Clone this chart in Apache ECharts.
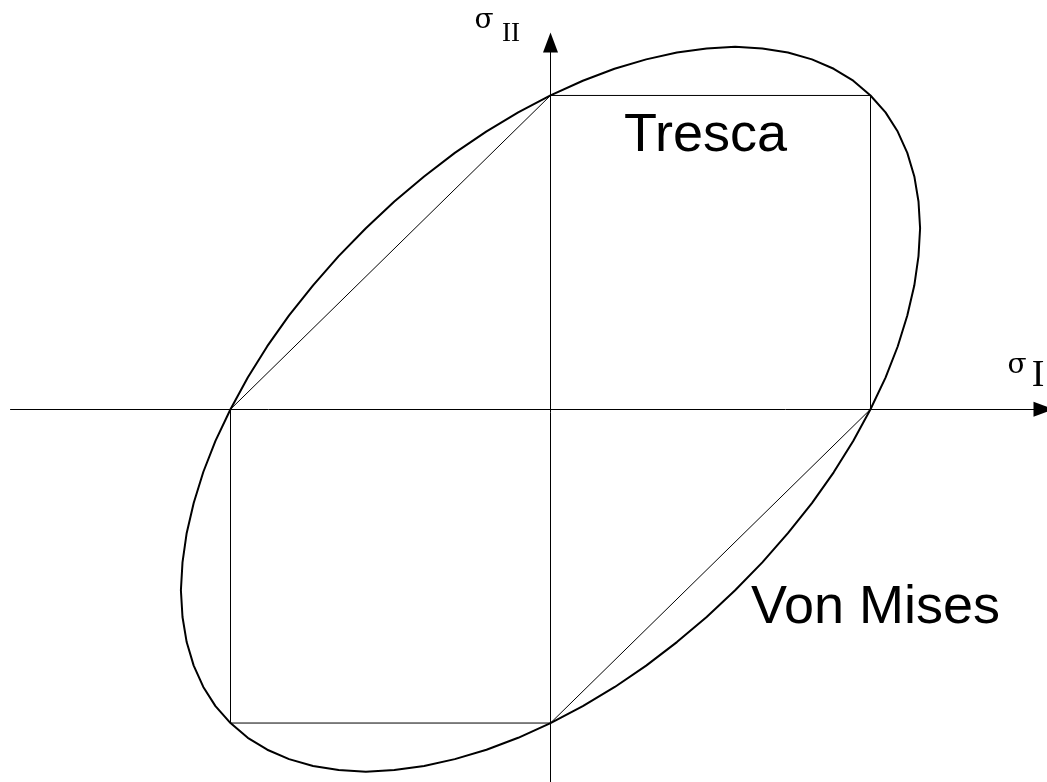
<!DOCTYPE html>
<html>
<head>
<meta charset="utf-8">
<title>Tresca / Von Mises</title>
<script src="https://cdn.jsdelivr.net/npm/echarts@6/dist/echarts.min.js"></script>
<style>
  html, body { margin: 0; padding: 0; background: #fff; }
  #chart { width: 1047px; height: 782px; }
</style>
</head>
<body>
<div id="chart"></div>
<script>
// Tresca hexagon corners (σI, σII), in units of the yield stress
const trescaX = [0, 1, 1, 0, -1, -1, 0];
const trescaY = [1, 1, 0, -1, -1, 0, 1];

// Points along the von Mises ellipse (σI, σII), going round clockwise from (1, 1)
const misesX = [
  1.000, 1.047, 1.085, 1.115, 1.137, 1.150, 1.155, 1.150, 1.137, 1.115, 1.085, 1.047,
  1.000, 0.946, 0.885, 0.817, 0.742, 0.662, 0.577, 0.488, 0.395, 0.299, 0.201, 0.101,
  0.000, -0.101, -0.200, -0.299, -0.395, -0.488, -0.577, -0.662, -0.742, -0.817, -0.885, -0.946,
  -1.000, -1.047, -1.085, -1.115, -1.137, -1.150, -1.155, -1.150, -1.137, -1.115, -1.085, -1.047,
  -1.000, -0.946, -0.885, -0.817, -0.742, -0.662, -0.577, -0.488, -0.395, -0.299, -0.201, -0.101,
  0.000, 0.101, 0.200, 0.299, 0.395, 0.488, 0.577, 0.662, 0.742, 0.817, 0.885, 0.946,
  1.000
];
const misesY = [
  1.000, 0.946, 0.885, 0.817, 0.742, 0.662, 0.577, 0.488, 0.395, 0.299, 0.200, 0.101,
  0.000, -0.101, -0.201, -0.299, -0.395, -0.488, -0.577, -0.662, -0.742, -0.817, -0.885, -0.946,
  -1.000, -1.047, -1.085, -1.115, -1.137, -1.150, -1.155, -1.150, -1.137, -1.115, -1.085, -1.047,
  -1.000, -0.946, -0.885, -0.817, -0.742, -0.662, -0.577, -0.488, -0.395, -0.299, -0.200, -0.101,
  0.000, 0.101, 0.201, 0.299, 0.395, 0.488, 0.577, 0.662, 0.742, 0.817, 0.885, 0.946,
  1.000, 1.047, 1.085, 1.115, 1.137, 1.150, 1.155, 1.150, 1.137, 1.115, 1.085, 1.047,
  1.000
];

const pairs = (xs, ys) => xs.map((x, i) => [x, ys[i]]);

const chart = echarts.init(document.getElementById('chart'), null, { renderer: 'canvas' });

const axisCommon = {
  type: 'value',
  axisLine: {
    onZero: true,
    symbol: ['none', 'triangle'],
    symbolSize: [15, 20],
    lineStyle: { color: '#000', width: 1 }
  },
  axisTick: { show: false },
  axisLabel: { show: false },
  splitLine: { show: false }
};

chart.setOption({
  animation: false,
  backgroundColor: '#fff',
  grid: { left: 10.5, right: 3.5, top: 42.5, bottom: -0.5, containLabel: false },
  xAxis: Object.assign({}, axisCommon, { min: -1.6875, max: 1.540625 }),
  yAxis: Object.assign({}, axisCommon, { min: -1.1879, max: 1.16879 }),
  series: [
    {
      name: 'Tresca',
      type: 'line',
      data: pairs(trescaX, trescaY),
      symbol: 'none',
      lineStyle: { color: '#000', width: 1 },
      z: 3
    },
    {
      name: 'Von Mises',
      type: 'line',
      data: pairs(misesX, misesY),
      symbol: 'none',
      smooth: false,
      lineStyle: { color: '#000', width: 2, join: 'round' },
      z: 4
    }
  ],
  graphic: [
    { type: 'text', x: 484, y: 21,
      style: { text: 'σ', font: '28px "DejaVu Serif"', fill: '#000', align: 'center', verticalAlign: 'middle' } },
    { type: 'text', x: 511, y: 34,
      style: { text: 'II', font: '27px "Liberation Serif"', fill: '#000', align: 'center', verticalAlign: 'middle' } },
    { type: 'text', x: 1017, y: 366,
      style: { text: 'σ', font: '28px "DejaVu Serif"', fill: '#000', align: 'center', verticalAlign: 'middle' } },
    { type: 'text', x: 1038, y: 376,
      style: { text: 'I', font: '38px "Liberation Serif"', fill: '#000', align: 'center', verticalAlign: 'middle' } },
    { type: 'text', x: 624, y: 136,
      style: { text: 'Tresca', font: '54px "Liberation Sans"', fill: '#000', align: 'left', verticalAlign: 'middle' } },
    { type: 'text', x: 751, y: 608,
      style: { text: 'Von Mises', font: '54px "Liberation Sans"', fill: '#000', align: 'left', verticalAlign: 'middle' } }
  ]
});
</script>
</body>
</html>
